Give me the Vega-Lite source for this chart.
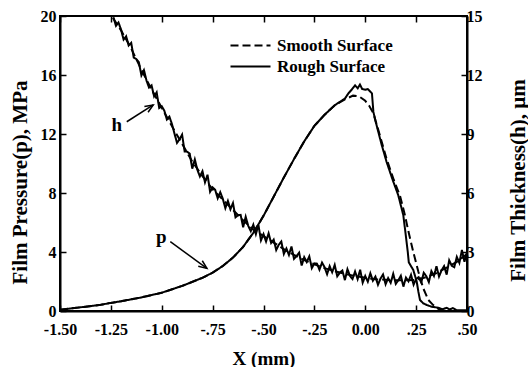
{
  "$schema": "https://vega.github.io/schema/vega-lite/v6.json",
  "width": 407,
  "height": 295,
  "autosize": {"type": "none"},
  "padding": {"left": 60, "top": 16, "right": 61, "bottom": 56},
  "background": "white",
  "config": {
    "view": {"stroke": "black", "strokeWidth": 2},
    "font": "Liberation Serif",
    "axis": {
      "grid": false,
      "domainColor": "black",
      "domainWidth": 2,
      "tickColor": "black",
      "tickWidth": 1.5,
      "labelFont": "Liberation Serif",
      "labelFontWeight": "bold",
      "labelFontSize": 16,
      "labelColor": "black",
      "titleFont": "Liberation Serif",
      "titleFontWeight": "bold",
      "titleFontSize": 19,
      "titleColor": "black"
    },
    "legend": {
      "orient": "none",
      "legendX": 182,
      "legendY": 21,
      "title": null,
      "padding": 0,
      "symbolType": "M-8,0H8",
      "symbolSize": 25,
      "symbolStrokeWidth": 2,
      "symbolStrokeColor": "black",
      "symbolFillColor": "transparent",
      "labelFont": "Liberation Serif",
      "labelFontWeight": "bold",
      "labelFontSize": 17,
      "labelColor": "black",
      "labelOffset": 18,
      "rowPadding": 3
    }
  },
  "datasets": {
    "pressure": [
      {"x": -1.5, "p": 0.08, "s": "Smooth Surface"},
      {"x": -1.4, "p": 0.25, "s": "Smooth Surface"},
      {"x": -1.3, "p": 0.42, "s": "Smooth Surface"},
      {"x": -1.25, "p": 0.55, "s": "Smooth Surface"},
      {"x": -1.2, "p": 0.66, "s": "Smooth Surface"},
      {"x": -1.1, "p": 0.92, "s": "Smooth Surface"},
      {"x": -1.0, "p": 1.24, "s": "Smooth Surface"},
      {"x": -0.9, "p": 1.7, "s": "Smooth Surface"},
      {"x": -0.8, "p": 2.25, "s": "Smooth Surface"},
      {"x": -0.75, "p": 2.6, "s": "Smooth Surface"},
      {"x": -0.7, "p": 3.05, "s": "Smooth Surface"},
      {"x": -0.65, "p": 3.62, "s": "Smooth Surface"},
      {"x": -0.6, "p": 4.35, "s": "Smooth Surface"},
      {"x": -0.55, "p": 5.3, "s": "Smooth Surface"},
      {"x": -0.5, "p": 6.45, "s": "Smooth Surface"},
      {"x": -0.45, "p": 7.75, "s": "Smooth Surface"},
      {"x": -0.4, "p": 9.05, "s": "Smooth Surface"},
      {"x": -0.35, "p": 10.3, "s": "Smooth Surface"},
      {"x": -0.3, "p": 11.5, "s": "Smooth Surface"},
      {"x": -0.25, "p": 12.55, "s": "Smooth Surface"},
      {"x": -0.2, "p": 13.3, "s": "Smooth Surface"},
      {"x": -0.15, "p": 13.95, "s": "Smooth Surface"},
      {"x": -0.1, "p": 14.35, "s": "Smooth Surface"},
      {"x": -0.06, "p": 14.6, "s": "Smooth Surface"},
      {"x": -0.03, "p": 14.55, "s": "Smooth Surface"},
      {"x": 0.0, "p": 14.25, "s": "Smooth Surface"},
      {"x": 0.02, "p": 13.9, "s": "Smooth Surface"},
      {"x": 0.04, "p": 13.4, "s": "Smooth Surface"},
      {"x": 0.07, "p": 12.0, "s": "Smooth Surface"},
      {"x": 0.105, "p": 10.3, "s": "Smooth Surface"},
      {"x": 0.14, "p": 8.9, "s": "Smooth Surface"},
      {"x": 0.171, "p": 7.8, "s": "Smooth Surface"},
      {"x": 0.195, "p": 6.5, "s": "Smooth Surface"},
      {"x": 0.212, "p": 5.4, "s": "Smooth Surface"},
      {"x": 0.236, "p": 4.0, "s": "Smooth Surface"},
      {"x": 0.261, "p": 2.66, "s": "Smooth Surface"},
      {"x": 0.285, "p": 1.54, "s": "Smooth Surface"},
      {"x": 0.31, "p": 0.75, "s": "Smooth Surface"},
      {"x": 0.334, "p": 0.4, "s": "Smooth Surface"},
      {"x": 0.359, "p": 0.15, "s": "Smooth Surface"},
      {"x": 0.38, "p": 0.03, "s": "Smooth Surface"},
      {"x": 0.4, "p": 0.0, "s": "Smooth Surface"},
      {"x": 0.5, "p": 0.0, "s": "Smooth Surface"},
      {"x": -1.5, "p": 0.08, "s": "Rough Surface"},
      {"x": -1.4, "p": 0.25, "s": "Rough Surface"},
      {"x": -1.3, "p": 0.42, "s": "Rough Surface"},
      {"x": -1.25, "p": 0.55, "s": "Rough Surface"},
      {"x": -1.2, "p": 0.66, "s": "Rough Surface"},
      {"x": -1.1, "p": 0.92, "s": "Rough Surface"},
      {"x": -1.0, "p": 1.24, "s": "Rough Surface"},
      {"x": -0.9, "p": 1.7, "s": "Rough Surface"},
      {"x": -0.8, "p": 2.25, "s": "Rough Surface"},
      {"x": -0.75, "p": 2.6, "s": "Rough Surface"},
      {"x": -0.7, "p": 3.05, "s": "Rough Surface"},
      {"x": -0.65, "p": 3.62, "s": "Rough Surface"},
      {"x": -0.6, "p": 4.35, "s": "Rough Surface"},
      {"x": -0.55, "p": 5.3, "s": "Rough Surface"},
      {"x": -0.5, "p": 6.45, "s": "Rough Surface"},
      {"x": -0.45, "p": 7.75, "s": "Rough Surface"},
      {"x": -0.4, "p": 9.05, "s": "Rough Surface"},
      {"x": -0.35, "p": 10.3, "s": "Rough Surface"},
      {"x": -0.3, "p": 11.5, "s": "Rough Surface"},
      {"x": -0.25, "p": 12.55, "s": "Rough Surface"},
      {"x": -0.2, "p": 13.3, "s": "Rough Surface"},
      {"x": -0.15, "p": 13.95, "s": "Rough Surface"},
      {"x": -0.1, "p": 14.4, "s": "Rough Surface"},
      {"x": -0.083, "p": 14.75, "s": "Rough Surface"},
      {"x": -0.067, "p": 15.0, "s": "Rough Surface"},
      {"x": -0.05, "p": 15.3, "s": "Rough Surface"},
      {"x": -0.037, "p": 15.1, "s": "Rough Surface"},
      {"x": -0.026, "p": 15.35, "s": "Rough Surface"},
      {"x": -0.015, "p": 15.05, "s": "Rough Surface"},
      {"x": 0.0, "p": 15.0, "s": "Rough Surface"},
      {"x": 0.012, "p": 15.05, "s": "Rough Surface"},
      {"x": 0.023, "p": 14.9, "s": "Rough Surface"},
      {"x": 0.033, "p": 14.75, "s": "Rough Surface"},
      {"x": 0.04, "p": 13.5, "s": "Rough Surface"},
      {"x": 0.05, "p": 12.9, "s": "Rough Surface"},
      {"x": 0.08, "p": 11.3, "s": "Rough Surface"},
      {"x": 0.105, "p": 10.1, "s": "Rough Surface"},
      {"x": 0.137, "p": 8.8, "s": "Rough Surface"},
      {"x": 0.162, "p": 7.86, "s": "Rough Surface"},
      {"x": 0.187, "p": 6.5, "s": "Rough Surface"},
      {"x": 0.199, "p": 5.15, "s": "Rough Surface"},
      {"x": 0.209, "p": 4.0, "s": "Rough Surface"},
      {"x": 0.214, "p": 3.3, "s": "Rough Surface"},
      {"x": 0.236, "p": 2.78, "s": "Rough Surface"},
      {"x": 0.253, "p": 1.99, "s": "Rough Surface"},
      {"x": 0.261, "p": 1.31, "s": "Rough Surface"},
      {"x": 0.269, "p": 0.75, "s": "Rough Surface"},
      {"x": 0.285, "p": 0.52, "s": "Rough Surface"},
      {"x": 0.302, "p": 0.41, "s": "Rough Surface"},
      {"x": 0.326, "p": 0.29, "s": "Rough Surface"},
      {"x": 0.359, "p": 0.22, "s": "Rough Surface"},
      {"x": 0.38, "p": 0.12, "s": "Rough Surface"},
      {"x": 0.4, "p": 0.22, "s": "Rough Surface"},
      {"x": 0.415, "p": 0.1, "s": "Rough Surface"},
      {"x": 0.43, "p": 0.2, "s": "Rough Surface"},
      {"x": 0.45, "p": 0.05, "s": "Rough Surface"},
      {"x": 0.5, "p": 0.05, "s": "Rough Surface"}
    ],
    "thickness": [
      {"x": -1.24, "h": 14.9, "s": "Smooth Surface"},
      {"x": -1.2, "h": 14.27, "s": "Smooth Surface"},
      {"x": -1.15, "h": 13.35, "s": "Smooth Surface"},
      {"x": -1.1, "h": 12.26, "s": "Smooth Surface"},
      {"x": -1.05, "h": 11.27, "s": "Smooth Surface"},
      {"x": -1.0, "h": 10.33, "s": "Smooth Surface"},
      {"x": -0.95, "h": 9.4, "s": "Smooth Surface"},
      {"x": -0.9, "h": 8.5, "s": "Smooth Surface"},
      {"x": -0.85, "h": 7.6, "s": "Smooth Surface"},
      {"x": -0.8, "h": 6.86, "s": "Smooth Surface"},
      {"x": -0.75, "h": 6.19, "s": "Smooth Surface"},
      {"x": -0.7, "h": 5.66, "s": "Smooth Surface"},
      {"x": -0.65, "h": 5.14, "s": "Smooth Surface"},
      {"x": -0.6, "h": 4.61, "s": "Smooth Surface"},
      {"x": -0.55, "h": 4.14, "s": "Smooth Surface"},
      {"x": -0.5, "h": 3.81, "s": "Smooth Surface"},
      {"x": -0.45, "h": 3.48, "s": "Smooth Surface"},
      {"x": -0.4, "h": 3.15, "s": "Smooth Surface"},
      {"x": -0.35, "h": 2.85, "s": "Smooth Surface"},
      {"x": -0.3, "h": 2.59, "s": "Smooth Surface"},
      {"x": -0.25, "h": 2.37, "s": "Smooth Surface"},
      {"x": -0.2, "h": 2.18, "s": "Smooth Surface"},
      {"x": -0.15, "h": 2.02, "s": "Smooth Surface"},
      {"x": -0.1, "h": 1.89, "s": "Smooth Surface"},
      {"x": -0.05, "h": 1.78, "s": "Smooth Surface"},
      {"x": 0.0, "h": 1.69, "s": "Smooth Surface"},
      {"x": 0.05, "h": 1.61, "s": "Smooth Surface"},
      {"x": 0.1, "h": 1.59, "s": "Smooth Surface"},
      {"x": 0.15, "h": 1.56, "s": "Smooth Surface"},
      {"x": 0.2, "h": 1.56, "s": "Smooth Surface"},
      {"x": 0.25, "h": 1.58, "s": "Smooth Surface"},
      {"x": 0.3, "h": 1.72, "s": "Smooth Surface"},
      {"x": 0.35, "h": 1.93, "s": "Smooth Surface"},
      {"x": 0.4, "h": 2.2, "s": "Smooth Surface"},
      {"x": 0.45, "h": 2.5, "s": "Smooth Surface"},
      {"x": 0.5, "h": 2.9, "s": "Smooth Surface"},
      {"x": -1.2375, "h": 14.94, "s": "Rough Surface"},
      {"x": -1.225, "h": 14.5, "s": "Rough Surface"},
      {"x": -1.2125, "h": 14.67, "s": "Rough Surface"},
      {"x": -1.2, "h": 14.31, "s": "Rough Surface"},
      {"x": -1.1875, "h": 13.8, "s": "Rough Surface"},
      {"x": -1.175, "h": 13.97, "s": "Rough Surface"},
      {"x": -1.1625, "h": 13.5, "s": "Rough Surface"},
      {"x": -1.15, "h": 13.63, "s": "Rough Surface"},
      {"x": -1.1375, "h": 12.88, "s": "Rough Surface"},
      {"x": -1.125, "h": 12.81, "s": "Rough Surface"},
      {"x": -1.1125, "h": 12.65, "s": "Rough Surface"},
      {"x": -1.1, "h": 11.98, "s": "Rough Surface"},
      {"x": -1.0875, "h": 12.25, "s": "Rough Surface"},
      {"x": -1.075, "h": 11.72, "s": "Rough Surface"},
      {"x": -1.0625, "h": 11.36, "s": "Rough Surface"},
      {"x": -1.05, "h": 11.47, "s": "Rough Surface"},
      {"x": -1.0375, "h": 10.91, "s": "Rough Surface"},
      {"x": -1.025, "h": 11.12, "s": "Rough Surface"},
      {"x": -1.0125, "h": 10.32, "s": "Rough Surface"},
      {"x": -1.0, "h": 10.41, "s": "Rough Surface"},
      {"x": -0.9875, "h": 10.19, "s": "Rough Surface"},
      {"x": -0.975, "h": 9.74, "s": "Rough Surface"},
      {"x": -0.9625, "h": 9.88, "s": "Rough Surface"},
      {"x": -0.95, "h": 9.51, "s": "Rough Surface"},
      {"x": -0.9375, "h": 9.02, "s": "Rough Surface"},
      {"x": -0.925, "h": 8.55, "s": "Rough Surface"},
      {"x": -0.9125, "h": 8.73, "s": "Rough Surface"},
      {"x": -0.9, "h": 8.97, "s": "Rough Surface"},
      {"x": -0.8875, "h": 8.11, "s": "Rough Surface"},
      {"x": -0.875, "h": 8.1, "s": "Rough Surface"},
      {"x": -0.8625, "h": 8.0, "s": "Rough Surface"},
      {"x": -0.85, "h": 7.24, "s": "Rough Surface"},
      {"x": -0.8375, "h": 7.71, "s": "Rough Surface"},
      {"x": -0.825, "h": 7.18, "s": "Rough Surface"},
      {"x": -0.8125, "h": 6.84, "s": "Rough Surface"},
      {"x": -0.8, "h": 7.11, "s": "Rough Surface"},
      {"x": -0.7875, "h": 6.54, "s": "Rough Surface"},
      {"x": -0.775, "h": 6.93, "s": "Rough Surface"},
      {"x": -0.7625, "h": 6.06, "s": "Rough Surface"},
      {"x": -0.75, "h": 6.29, "s": "Rough Surface"},
      {"x": -0.7375, "h": 6.16, "s": "Rough Surface"},
      {"x": -0.725, "h": 5.73, "s": "Rough Surface"},
      {"x": -0.7125, "h": 6.04, "s": "Rough Surface"},
      {"x": -0.7, "h": 5.71, "s": "Rough Surface"},
      {"x": -0.6875, "h": 5.23, "s": "Rough Surface"},
      {"x": -0.675, "h": 5.6, "s": "Rough Surface"},
      {"x": -0.6625, "h": 5.17, "s": "Rough Surface"},
      {"x": -0.65, "h": 5.49, "s": "Rough Surface"},
      {"x": -0.6375, "h": 4.76, "s": "Rough Surface"},
      {"x": -0.625, "h": 4.88, "s": "Rough Surface"},
      {"x": -0.6125, "h": 4.89, "s": "Rough Surface"},
      {"x": -0.6, "h": 4.26, "s": "Rough Surface"},
      {"x": -0.5875, "h": 4.79, "s": "Rough Surface"},
      {"x": -0.575, "h": 4.33, "s": "Rough Surface"},
      {"x": -0.5625, "h": 4.06, "s": "Rough Surface"},
      {"x": -0.55, "h": 4.39, "s": "Rough Surface"},
      {"x": -0.5375, "h": 3.91, "s": "Rough Surface"},
      {"x": -0.525, "h": 4.38, "s": "Rough Surface"},
      {"x": -0.5125, "h": 3.59, "s": "Rough Surface"},
      {"x": -0.5, "h": 3.91, "s": "Rough Surface"},
      {"x": -0.4875, "h": 3.53, "s": "Rough Surface"},
      {"x": -0.475, "h": 3.95, "s": "Rough Surface"},
      {"x": -0.4625, "h": 3.46, "s": "Rough Surface"},
      {"x": -0.45, "h": 3.63, "s": "Rough Surface"},
      {"x": -0.4375, "h": 3.1, "s": "Rough Surface"},
      {"x": -0.425, "h": 3.37, "s": "Rough Surface"},
      {"x": -0.4125, "h": 3.53, "s": "Rough Surface"},
      {"x": -0.4, "h": 2.9, "s": "Rough Surface"},
      {"x": -0.3875, "h": 3.18, "s": "Rough Surface"},
      {"x": -0.375, "h": 2.85, "s": "Rough Surface"},
      {"x": -0.3625, "h": 3.28, "s": "Rough Surface"},
      {"x": -0.35, "h": 2.65, "s": "Rough Surface"},
      {"x": -0.3375, "h": 2.79, "s": "Rough Surface"},
      {"x": -0.325, "h": 2.97, "s": "Rough Surface"},
      {"x": -0.3125, "h": 2.31, "s": "Rough Surface"},
      {"x": -0.3, "h": 2.74, "s": "Rough Surface"},
      {"x": -0.2875, "h": 2.49, "s": "Rough Surface"},
      {"x": -0.275, "h": 2.78, "s": "Rough Surface"},
      {"x": -0.2625, "h": 2.18, "s": "Rough Surface"},
      {"x": -0.25, "h": 2.42, "s": "Rough Surface"},
      {"x": -0.2375, "h": 2.41, "s": "Rough Surface"},
      {"x": -0.225, "h": 2.1, "s": "Rough Surface"},
      {"x": -0.2125, "h": 2.46, "s": "Rough Surface"},
      {"x": -0.2, "h": 2.23, "s": "Rough Surface"},
      {"x": -0.1875, "h": 1.87, "s": "Rough Surface"},
      {"x": -0.175, "h": 2.28, "s": "Rough Surface"},
      {"x": -0.1625, "h": 1.97, "s": "Rough Surface"},
      {"x": -0.15, "h": 2.34, "s": "Rough Surface"},
      {"x": -0.1375, "h": 1.76, "s": "Rough Surface"},
      {"x": -0.125, "h": 1.95, "s": "Rough Surface"},
      {"x": -0.1125, "h": 2.06, "s": "Rough Surface"},
      {"x": -0.1, "h": 1.57, "s": "Rough Surface"},
      {"x": -0.0875, "h": 2.13, "s": "Rough Surface"},
      {"x": -0.075, "h": 1.78, "s": "Rough Surface"},
      {"x": -0.0625, "h": 1.63, "s": "Rough Surface"},
      {"x": -0.05, "h": 2.01, "s": "Rough Surface"},
      {"x": -0.0375, "h": 1.62, "s": "Rough Surface"},
      {"x": -0.025, "h": 2.1, "s": "Rough Surface"},
      {"x": -0.0125, "h": 1.44, "s": "Rough Surface"},
      {"x": 0.0, "h": 1.78, "s": "Rough Surface"},
      {"x": 0.0125, "h": 1.49, "s": "Rough Surface"},
      {"x": 0.025, "h": 1.92, "s": "Rough Surface"},
      {"x": 0.0375, "h": 1.54, "s": "Rough Surface"},
      {"x": 0.05, "h": 1.75, "s": "Rough Surface"},
      {"x": 0.0625, "h": 1.33, "s": "Rough Surface"},
      {"x": 0.075, "h": 1.65, "s": "Rough Surface"},
      {"x": 0.0875, "h": 1.86, "s": "Rough Surface"},
      {"x": 0.1, "h": 1.36, "s": "Rough Surface"},
      {"x": 0.1125, "h": 1.67, "s": "Rough Surface"},
      {"x": 0.125, "h": 1.43, "s": "Rough Surface"},
      {"x": 0.1375, "h": 1.89, "s": "Rough Surface"},
      {"x": 0.15, "h": 1.38, "s": "Rough Surface"},
      {"x": 0.1625, "h": 1.56, "s": "Rough Surface"},
      {"x": 0.175, "h": 1.79, "s": "Rough Surface"},
      {"x": 0.1875, "h": 1.24, "s": "Rough Surface"},
      {"x": 0.2, "h": 1.7, "s": "Rough Surface"},
      {"x": 0.2125, "h": 1.51, "s": "Rough Surface"},
      {"x": 0.225, "h": 1.84, "s": "Rough Surface"},
      {"x": 0.2375, "h": 1.34, "s": "Rough Surface"},
      {"x": 0.25, "h": 1.63, "s": "Rough Surface"},
      {"x": 0.2625, "h": 1.72, "s": "Rough Surface"},
      {"x": 0.275, "h": 1.45, "s": "Rough Surface"},
      {"x": 0.2875, "h": 1.94, "s": "Rough Surface"},
      {"x": 0.3, "h": 1.77, "s": "Rough Surface"},
      {"x": 0.3125, "h": 1.47, "s": "Rough Surface"},
      {"x": 0.325, "h": 2.03, "s": "Rough Surface"},
      {"x": 0.3375, "h": 1.78, "s": "Rough Surface"},
      {"x": 0.35, "h": 2.28, "s": "Rough Surface"},
      {"x": 0.3625, "h": 1.75, "s": "Rough Surface"},
      {"x": 0.375, "h": 2.07, "s": "Rough Surface"},
      {"x": 0.3875, "h": 2.28, "s": "Rough Surface"},
      {"x": 0.4, "h": 1.85, "s": "Rough Surface"},
      {"x": 0.4125, "h": 2.58, "s": "Rough Surface"},
      {"x": 0.425, "h": 2.3, "s": "Rough Surface"},
      {"x": 0.4375, "h": 2.23, "s": "Rough Surface"},
      {"x": 0.45, "h": 2.75, "s": "Rough Surface"},
      {"x": 0.4625, "h": 2.45, "s": "Rough Surface"},
      {"x": 0.475, "h": 3.1, "s": "Rough Surface"},
      {"x": 0.4875, "h": 2.5, "s": "Rough Surface"},
      {"x": 0.5, "h": 3.0, "s": "Rough Surface"}
    ],
    "labels": [
      {"x": -1.221, "p": 12.6, "t": "h"},
      {"x": -1.002, "p": 5.04, "t": "p"}
    ],
    "arrows": [
      {"x": -1.172, "p": 12.83, "x2": -1.042, "p2": 13.97},
      {"x": -0.958, "p": 4.7, "x2": -0.778, "p2": 2.89}
    ],
    "headH": [{"x": -1.042, "p": 13.97}],
    "headP": [{"x": -0.778, "p": 2.89}]
  },
  "layer": [
    {
      "data": {"name": "pressure"},
      "mark": {"type": "line", "color": "black", "strokeWidth": 2},
      "encoding": {
        "x": {
          "field": "x", "type": "quantitative",
          "scale": {"domain": [-1.5, 0.5], "nice": false, "zero": false},
          "axis": {
            "orient": "bottom",
            "values": [-1.5, -1.25, -1, -0.75, -0.5, -0.25, 0, 0.25, 0.5],
            "labelExpr": "(datum.value < 0 ? '-' : '') + (abs(datum.value) < 1 && datum.value != 0 ? substring(format(abs(datum.value), '.2f'), 1) : format(abs(datum.value), '.2f'))",
            "tickSize": -6,
            "labelPadding": 16,
            "labelFlush": false,
            "labelOverlap": false,
            "title": "X (mm)",
            "titlePadding": 12
          }
        },
        "y": {
          "field": "p", "type": "quantitative",
          "scale": {"domain": [0, 20], "nice": false},
          "axis": {
            "orient": "left",
            "values": [0, 4, 8, 12, 16, 20],
            "tickSize": -6,
            "labelPadding": 10,
            "title": "Film Pressure(p), MPa",
            "titleFontSize": 21,
            "titleY": 166,
            "titlePadding": 10
          }
        },
        "strokeDash": {
          "field": "s", "type": "nominal",
          "scale": {"domain": ["Smooth Surface", "Rough Surface"], "range": [[8, 4], [1, 0]]},
          "legend": {"title": null}
        }
      }
    },
    {
      "data": {"name": "thickness"},
      "mark": {"type": "line", "color": "black", "strokeWidth": 2},
      "encoding": {
        "x": {"field": "x", "type": "quantitative", "scale": {"domain": [-1.5, 0.5], "nice": false, "zero": false}, "axis": null},
        "y": {
          "field": "h", "type": "quantitative",
          "scale": {"domain": [0, 15], "nice": false},
          "axis": {
            "orient": "right",
            "values": [0, 3, 6, 9, 12, 15],
            "tickSize": -6,
            "labelPadding": 5,
            "title": "Film Thickness(h), µm",
            "titleAngle": 270,
            "titleFontSize": 21,
            "titleY": 164,
            "titlePadding": 46
          }
        },
        "strokeDash": {"field": "s", "type": "nominal", "legend": {"title": null}}
      }
    },
    {
      "data": {"name": "labels"},
      "mark": {"type": "text", "font": "Liberation Serif", "fontWeight": "bold", "fontSize": 19, "color": "black"},
      "encoding": {
        "x": {
          "field": "x", "type": "quantitative",
          "scale": {"domain": [-1.5, 0.5], "nice": false, "zero": false},
          "axis": {"orient": "top", "values": [-1.5, -1.25, -1, -0.75, -0.5, -0.25, 0, 0.25, 0.5], "labels": false, "domain": false, "tickSize": -6, "title": null}
        },
        "y": {"field": "p", "type": "quantitative", "scale": {"domain": [0, 20], "nice": false}, "axis": null},
        "text": {"field": "t"}
      }
    },
    {
      "data": {"name": "arrows"},
      "mark": {"type": "rule", "color": "black", "strokeWidth": 1.5},
      "encoding": {
        "x": {"field": "x", "type": "quantitative", "scale": {"domain": [-1.5, 0.5], "nice": false, "zero": false}, "axis": null},
        "x2": {"field": "x2"},
        "y": {"field": "p", "type": "quantitative", "scale": {"domain": [0, 20], "nice": false}, "axis": null},
        "y2": {"field": "p2"}
      }
    },
    {
      "data": {"name": "headH"},
      "mark": {"type": "point", "shape": "M-0.42,1L0,0L0.42,1", "filled": false, "stroke": "black", "strokeWidth": 1.5, "size": 270, "angle": 57.9, "opacity": 1},
      "encoding": {
        "x": {"field": "x", "type": "quantitative", "scale": {"domain": [-1.5, 0.5], "nice": false, "zero": false}, "axis": null},
        "y": {"field": "p", "type": "quantitative", "scale": {"domain": [0, 20], "nice": false}, "axis": null}
      }
    },
    {
      "data": {"name": "headP"},
      "mark": {"type": "point", "shape": "M-0.42,1L0,0L0.42,1", "filled": false, "stroke": "black", "strokeWidth": 1.5, "size": 270, "angle": 125.9, "opacity": 1},
      "encoding": {
        "x": {"field": "x", "type": "quantitative", "scale": {"domain": [-1.5, 0.5], "nice": false, "zero": false}, "axis": null},
        "y": {"field": "p", "type": "quantitative", "scale": {"domain": [0, 20], "nice": false}, "axis": null}
      }
    }
  ],
  "resolve": {"scale": {"y": "independent"}, "axis": {"x": "independent", "y": "independent"}}
}
